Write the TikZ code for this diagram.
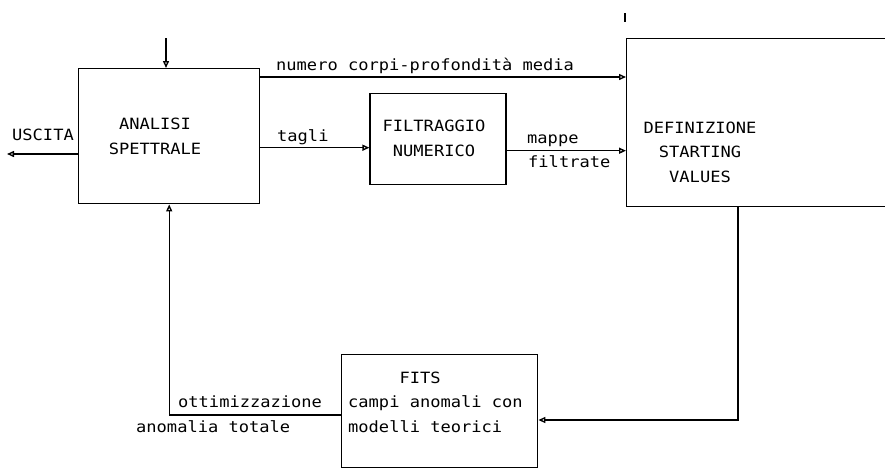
\documentclass[tikz,border=0pt]{standalone}
\usepackage{fontspec}
\setmonofont[FakeStretch=1.1]{DejaVu Sans Mono}
\usetikzlibrary{positioning,arrows.meta,calc}
\tikzset{
  blk/.style={draw, line width=1.4pt, rectangle, inner sep=0pt, anchor=north west},
  txt/.style={font=\ttfamily\fontsize{15.5}{24.5}\selectfont, inner sep=0pt, align=center},
  lbl/.style={txt, anchor=base west},
  ar/.style={-{Triangle[open,length=7pt,width=6pt]}, line width=1.4pt},
}

\begin{document}
\begin{tikzpicture}[x=1pt, y=-1pt]
    \useasboundingbox (0,0) rectangle (885,469);
    \clip (0,0) rectangle (885,469);

    % blocks
    \node[blk, minimum width=181pt, minimum height=135pt] (ana) at (78,68) {};
    \node[blk, minimum width=136pt, minimum height=91pt, right=109pt of ana, yshift=-3pt] (filt) {};
    \node[blk, minimum width=290pt, minimum height=168pt] (defi) at (626,38) {};
    \node[blk, minimum width=196pt, minimum height=113pt] (fits) at (341,354) {};

    % block texts (base = last line)
    \node[txt, anchor=base] (anaT) at (155,154) {ANALISI\\SPETTRALE};
    \node[txt, anchor=base] (filtT) at (434,156) {FILTRAGGIO\\NUMERICO};
    \node[txt, anchor=base] (defiT) at (700,182) {DEFINIZIONE\\STARTING\\VALUES};
    \node[txt, anchor=base west, align=left] (fitsT) at (348,432)
      {\hphantom{AAAAA}FITS\\campi anomali con\\modelli teorici};

    % connectors
    \coordinate (inTop) at (166,38);
    \coordinate (out) at (7,154);
    \draw[ar] (inTop) -- (inTop |- ana.north);
    \draw[ar] (ana.west |- out) -- (out);
    \draw[ar] ([yshift=-9pt]ana.north east) -- ([yshift=-9pt]ana.north east -| defi.west);
    \draw[ar] ([yshift=-8.5pt]filt.west -| ana.east) -- ([yshift=-8.5pt]filt.west);
    \draw[ar] ([yshift=-11.5pt]filt.east) -- ([yshift=-11.5pt]filt.east -| defi.west);
    \draw[ar] ([xshift=112pt]defi.south west) |- ([yshift=-66pt]fits.north east);
    \draw[ar] ([yshift=-61pt]fits.north west) -| (ana.south);
    \draw[line width=1.4pt] (625,13) -- (625,22);

    % labels
    \node[lbl] (uscL) at (12,140) {USCITA};
    \node[lbl] (numL) at (276,70) {numero corpi-profondità media};
    \node[lbl] (tagL) at (277,141) {tagli};
    \node[lbl] (mapL) at (527,143) {mappe};
    \node[lbl] (filL) at (528,167) {filtrate};
    \node[lbl] (ottL) at (178,407) {ottimizzazione};
    \node[lbl] (anoL) at (136,432) {anomalia totale};
  \end{tikzpicture}
\end{document}
